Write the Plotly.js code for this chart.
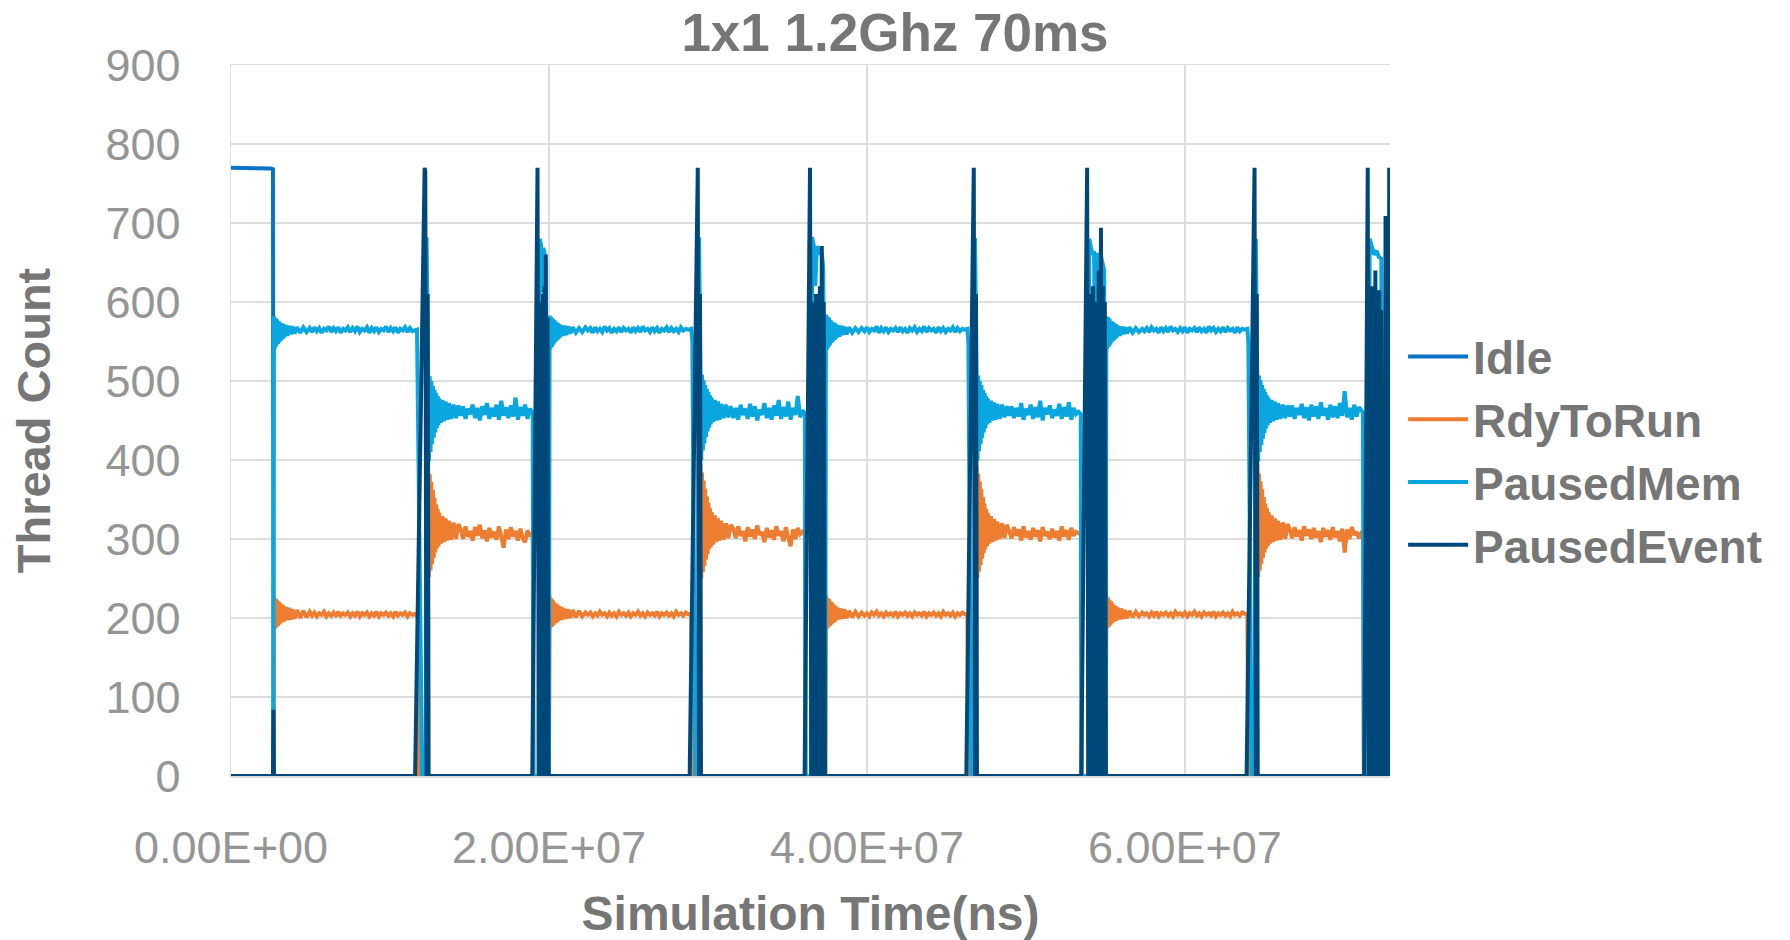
<!DOCTYPE html>
<html>
<head>
<meta charset="utf-8">
<script src="https://cdn.plot.ly/plotly-3.0.1.min.js"></script>
<style>
html, body { margin: 0; padding: 0; background: #ffffff; }
#chart { width: 1790px; height: 940px; }
</style>
</head>
<body>
<div id="chart"></div>
<script>
// ---------- labels ----------
const chartTitle = "1x1 1.2Ghz 70ms";
const xTitle = "Simulation Time(ns)";
const yTitle = "Thread Count";
const seriesNames = ["Idle", "RdyToRun", "PausedMem", "PausedEvent"];
const xTickVals = [0, 2e7, 4e7, 6e7];
const xTickText = ["0.00E+00", "2.00E+07", "4.00E+07", "6.00E+07"];

// ---------- Idle (time in ms) ----------
const tIdle = [0, 2.30, 2.50, 2.64, 2.68, 72.9];
const idle  = [770, 770, 769, 768, 0, 0];

// ---------- RdyToRun / PausedMem, segment by segment (time in ms) ----------
const tA = [0, 2.66];
const memA = [0, 0];
const rdyA = [0, 0];

// high phase 1
const tH1 = [2.70, 2.75, 2.80, 2.85, 2.90, 2.95, 3.00, 3.05, 3.10, 3.15, 3.20, 3.25, 3.30, 3.35, 3.45, 3.55, 3.65, 3.75, 3.85, 4.00, 4.15, 4.35, 4.55, 4.75, 4.95,
  5.10, 5.25, 5.40, 5.55, 5.70, 5.85, 6.00, 6.15, 6.30, 6.45, 6.60, 6.75, 6.90, 7.05, 7.20, 7.35, 7.50, 7.65, 7.80, 7.95, 8.10, 8.25, 8.40, 8.55, 8.70,
  8.85, 9.00, 9.15, 9.30, 9.45, 9.60, 9.75, 9.90, 10.05, 10.20, 10.35, 10.50, 10.65, 10.80, 10.95, 11.10, 11.25, 11.40];
const memH1 = [582, 541, 580, 544, 578, 547, 576, 549, 574, 551, 573, 553, 572, 555, 571, 557, 570, 559, 569, 560, 568, 561, 568, 562, 567,
  562, 568, 563, 567, 561, 566, 564, 569, 562, 567, 563, 568, 561, 566, 564, 568, 562, 567, 563, 569,
  562, 566, 564, 568, 561, 567, 563, 568, 562, 566, 564, 569, 562, 567, 563, 568, 561, 566, 564, 568, 562, 567, 563];
const rdyH1 = [227, 186, 225, 188, 223, 190, 221, 192, 219, 194, 217, 195, 216, 196, 214, 197, 213, 198, 211, 199, 210, 200, 209, 201, 208,
  203, 207, 202, 206, 204, 208, 202, 206, 203, 207, 202, 208, 203, 206, 204, 207, 202, 206, 203, 208,
  202, 206, 204, 207, 202, 206, 203, 208, 202, 206, 204, 207, 203, 206, 202, 208, 203, 206, 204, 207, 202, 206, 204];

const tS1 = [11.55, 11.70, 11.75, 11.80, 12.02, 12.25, 12.30, 12.35];
const memS1 = [564, 565, 478, 390, 0, 0, 682, 600];
const rdyS1 = [205, 203, 202, 0, 0, 0, 0, 0];

// low phase 1
const tL1 = [12.40, 12.45, 12.50, 12.55, 12.60, 12.65, 12.70, 12.75, 12.80, 12.85, 12.90, 12.95, 13.00, 13.05, 13.10, 13.20, 13.30, 13.40, 13.50, 13.60, 13.70, 13.85, 14.00, 14.15, 14.30,
  14.45, 14.60, 14.75, 14.90, 15.05, 15.20, 15.35, 15.50, 15.65, 15.80, 15.95, 16.10, 16.25, 16.40, 16.55,
  16.70, 16.85, 17.00, 17.15, 17.30, 17.45, 17.60, 17.75, 17.90, 18.05, 18.20, 18.35, 18.50, 18.65, 18.80];
const memL1 = [512, 398, 506, 410, 500, 420, 494, 428, 489, 435, 485, 440, 481, 444, 478, 447, 476, 449, 474, 451, 472, 452, 470, 453, 469,
  456, 468, 452, 465, 458, 470, 453, 466, 450, 468, 457, 472, 452, 466, 455,
  470, 451, 475, 456, 467, 453, 469, 455, 479, 451, 467, 456, 470, 452, 465];
const rdyL1 = [392, 252, 382, 260, 372, 268, 362, 276, 352, 283, 344, 288, 338, 291, 333, 294, 329, 296, 326, 298, 323, 299, 321, 300, 319,
  312, 300, 316, 303, 310, 298, 315, 304, 318, 301, 311, 297, 314, 302, 309,
  299, 316, 303, 289, 312, 300, 315, 303, 310, 298, 313, 301, 296, 311, 305];

const tS2 = [18.98, 19.02, 19.35, 19.42, 19.50, 19.56, 19.62, 19.70, 19.78, 19.90, 20.00];
const memS2 = [459, 0, 0, 680, 672, 612, 668, 665, 652, 0, 0];
const rdyS2 = [306, 0, 0, 0, 0, 0, 0, 0, 0, 0, 0];

// high phase 2
const tH2 = [20.04, 20.09, 20.14, 20.19, 20.24, 20.29, 20.34, 20.39, 20.44, 20.49, 20.54, 20.59, 20.64, 20.69, 20.79, 20.89, 20.99, 21.09, 21.19, 21.34, 21.49, 21.69, 21.89, 22.09, 22.29,
  22.45, 22.60, 22.75, 22.90, 23.05, 23.20, 23.35, 23.50, 23.65, 23.80, 23.95, 24.10, 24.25, 24.40, 24.55, 24.70, 24.85, 25.00, 25.15, 25.30, 25.45, 25.60,
  25.75, 25.90, 26.05, 26.20, 26.35, 26.50, 26.65, 26.80, 26.95, 27.10, 27.25, 27.40, 27.55, 27.70, 27.85, 28.00, 28.15, 28.30, 28.45, 28.60, 28.75];
const memH2 = [583, 540, 581, 543, 579, 546, 577, 549, 575, 551, 574, 553, 572, 555, 571, 557, 570, 558, 569, 560, 568, 561, 567, 562, 568,
  564, 567, 561, 568, 563, 566, 562, 569, 564, 567, 561, 566, 563, 568, 562, 567, 564, 566, 561, 568, 563, 567,
  562, 569, 564, 566, 562, 568, 563, 567, 561, 566, 564, 568, 562, 567, 563, 566, 562, 568, 564, 566, 565];
const rdyH2 = [228, 187, 225, 189, 223, 191, 220, 193, 218, 194, 217, 196, 215, 197, 214, 198, 212, 199, 211, 200, 210, 201, 209, 202, 207,
  204, 207, 202, 206, 203, 208, 204, 206, 202, 207, 203, 206, 202, 208, 204, 206, 203, 207, 202, 206, 204, 208,
  203, 206, 202, 207, 204, 206, 203, 208, 202, 206, 204, 207, 203, 206, 202, 208, 204, 206, 203, 207, 205];

const tS3 = [28.95, 29.02, 29.20, 29.38, 29.44, 29.49];
const memS3 = [566, 550, 0, 0, 682, 600];
const rdyS3 = [204, 0, 0, 0, 0, 0];

// low phase 2
const tL2 = [29.53, 29.58, 29.63, 29.68, 29.73, 29.78, 29.83, 29.88, 29.93, 29.98, 30.03, 30.08, 30.13, 30.18, 30.23, 30.33, 30.43, 30.53, 30.63, 30.73, 30.83, 30.98, 31.13, 31.28, 31.43,
  31.60, 31.75, 31.90, 32.05, 32.20, 32.35, 32.50, 32.65, 32.80, 32.95, 33.10, 33.25, 33.40, 33.55, 33.70,
  33.85, 34.00, 34.15, 34.30, 34.45, 34.60, 34.75, 34.90, 35.05, 35.20, 35.35, 35.50, 35.65, 35.80, 35.95];
const memL2 = [515, 400, 508, 412, 501, 421, 495, 429, 490, 436, 486, 441, 482, 445, 479, 448, 476, 450, 474, 451, 471, 453, 470, 454, 468,
  453, 466, 451, 470, 457, 465, 452, 471, 455, 468, 450, 464, 457, 472, 453,
  466, 451, 469, 456, 476, 452, 467, 455, 474, 451, 466, 457, 481, 454, 463];
const rdyL2 = [395, 250, 384, 258, 374, 266, 364, 274, 354, 281, 346, 287, 339, 290, 334, 293, 330, 296, 326, 298, 323, 299, 320, 301, 318,
  313, 301, 316, 304, 310, 297, 315, 303, 312, 300, 317, 305, 309, 296, 314,
  302, 311, 299, 316, 304, 310, 297, 315, 302, 291, 312, 300, 314, 306, 309];

const tS4 = [36.10, 36.14, 36.48, 36.55, 36.65, 36.75, 36.85, 36.95, 37.05, 37.15, 37.25, 37.38];
const memS4 = [458, 0, 0, 682, 672, 620, 670, 668, 660, 662, 645, 0];
const rdyS4 = [305, 0, 0, 0, 0, 0, 0, 0, 0, 0, 0, 0];

// high phase 3
const tH3 = [37.42, 37.47, 37.52, 37.57, 37.62, 37.67, 37.72, 37.77, 37.82, 37.87, 37.92, 37.97, 38.02, 38.07, 38.17, 38.27, 38.37, 38.47, 38.57, 38.72, 38.87, 39.07, 39.27, 39.47, 39.67,
  39.85, 40.00, 40.15, 40.30, 40.45, 40.60, 40.75, 40.90, 41.05, 41.20, 41.35, 41.50, 41.65, 41.80, 41.95, 42.10, 42.25, 42.40, 42.55, 42.70, 42.85, 43.00,
  43.15, 43.30, 43.45, 43.60, 43.75, 43.90, 44.05, 44.20, 44.35, 44.50, 44.65, 44.80, 44.95, 45.10, 45.25, 45.40, 45.55, 45.70, 45.85, 46.00, 46.15];
const memH3 = [584, 539, 582, 542, 580, 545, 577, 548, 575, 550, 574, 552, 573, 554, 571, 556, 570, 558, 569, 559, 568, 561, 567, 562, 567,
  563, 568, 562, 566, 564, 569, 561, 567, 563, 568, 562, 566, 564, 567, 562, 568, 563, 566, 561, 567, 564, 568,
  562, 566, 563, 569, 562, 567, 564, 566, 561, 568, 563, 567, 562, 566, 564, 568, 562, 567, 563, 566, 565];
const rdyH3 = [229, 186, 226, 188, 224, 190, 221, 192, 219, 194, 217, 195, 215, 197, 213, 198, 212, 199, 211, 200, 209, 201, 208, 202, 207,
  203, 206, 202, 207, 204, 208, 203, 206, 202, 207, 204, 206, 203, 208, 202, 206, 204, 207, 203, 206, 202, 207,
  204, 206, 203, 208, 202, 206, 204, 207, 203, 206, 202, 208, 204, 206, 203, 207, 202, 206, 204, 207, 205];

const tS5 = [46.32, 46.38, 46.56, 46.74, 46.80, 46.85];
const memS5 = [566, 548, 0, 0, 681, 602];
const rdyS5 = [203, 0, 0, 0, 0, 0];

// low phase 3
const tL3 = [46.90, 46.95, 47.00, 47.05, 47.10, 47.15, 47.20, 47.25, 47.30, 47.35, 47.40, 47.45, 47.50, 47.55, 47.60, 47.70, 47.80, 47.90, 48.00, 48.10, 48.20, 48.35, 48.50, 48.65, 48.80,
  48.95, 49.10, 49.25, 49.40, 49.55, 49.70, 49.85, 50.00, 50.15, 50.30, 50.45, 50.60, 50.75, 50.90, 51.05,
  51.20, 51.35, 51.50, 51.65, 51.80, 51.95, 52.10, 52.25, 52.40, 52.55, 52.70, 52.85, 53.00, 53.15, 53.30];
const memL3 = [513, 399, 507, 411, 500, 420, 495, 428, 489, 435, 485, 440, 481, 445, 478, 447, 475, 450, 473, 451, 471, 452, 470, 454, 468,
  456, 468, 453, 466, 455, 472, 451, 465, 457, 470, 452, 467, 454, 475, 450,
  466, 458, 469, 453, 464, 456, 471, 452, 467, 455, 473, 451, 466, 458, 461];
const rdyL3 = [393, 251, 383, 259, 373, 267, 363, 275, 353, 282, 345, 287, 338, 291, 333, 294, 329, 296, 325, 298, 322, 300, 320, 301, 318,
  311, 301, 315, 304, 312, 298, 316, 302, 310, 299, 314, 303, 311, 297, 315,
  304, 309, 300, 313, 302, 310, 298, 316, 303, 311, 299, 314, 304, 309, 307];

const tS6 = [53.45, 53.50, 53.92, 53.98, 54.08, 54.18, 54.28, 54.36, 54.42, 54.48, 54.58, 54.68, 54.80, 54.92, 55.02];
const memS6 = [458, 0, 0, 680, 668, 660, 665, 437, 437, 662, 655, 662, 650, 640, 0];
const rdyS6 = [306, 0, 0, 0, 0, 0, 0, 0, 0, 0, 0, 0, 0, 0, 0];

// high phase 4
const tH4 = [55.06, 55.11, 55.16, 55.21, 55.26, 55.31, 55.36, 55.41, 55.46, 55.51, 55.56, 55.61, 55.66, 55.71, 55.81, 55.91, 56.01, 56.11, 56.21, 56.36, 56.51, 56.71, 56.91, 57.11, 57.31,
  57.45, 57.60, 57.75, 57.90, 58.05, 58.20, 58.35, 58.50, 58.65, 58.80, 58.95, 59.10, 59.25, 59.40, 59.55, 59.70, 59.85, 60.00, 60.15, 60.30, 60.45, 60.60,
  60.75, 60.90, 61.05, 61.20, 61.35, 61.50, 61.65, 61.80, 61.95, 62.10, 62.25, 62.40, 62.55, 62.70, 62.85, 63.00, 63.15, 63.30, 63.45, 63.60, 63.75];
const memH4 = [582, 540, 581, 543, 579, 546, 576, 549, 575, 551, 573, 553, 572, 555, 570, 557, 569, 559, 568, 560, 568, 561, 567, 562, 566,
  563, 567, 562, 568, 564, 566, 561, 568, 563, 567, 562, 569, 564, 566, 562, 567, 563, 568, 561, 566, 564, 567,
  562, 568, 563, 566, 561, 569, 564, 567, 562, 566, 563, 568, 562, 567, 564, 566, 561, 568, 563, 566, 565];
const rdyH4 = [228, 187, 226, 189, 223, 191, 221, 193, 218, 195, 216, 196, 215, 197, 213, 198, 212, 199, 210, 200, 209, 201, 208, 202, 207,
  204, 206, 202, 207, 203, 208, 202, 206, 204, 207, 203, 206, 202, 208, 204, 206, 203, 207, 202, 206, 204, 208,
  203, 206, 202, 207, 204, 206, 203, 208, 202, 206, 204, 207, 203, 206, 202, 208, 204, 206, 203, 207, 205];

const tS7 = [63.93, 63.99, 64.20, 64.40, 64.46, 64.51];
const memS7 = [566, 549, 0, 0, 680, 601];
const rdyS7 = [204, 0, 0, 0, 0, 0];

// low phase 4
const tL4 = [64.56, 64.61, 64.66, 64.71, 64.76, 64.81, 64.86, 64.91, 64.96, 65.01, 65.06, 65.11, 65.16, 65.21, 65.26, 65.36, 65.46, 65.56, 65.66, 65.76, 65.86, 66.01, 66.16, 66.31, 66.46,
  66.60, 66.75, 66.90, 67.05, 67.20, 67.35, 67.50, 67.65, 67.80, 67.95, 68.10, 68.25, 68.40, 68.55, 68.70, 68.85,
  69.00, 69.15, 69.30, 69.45, 69.60, 69.75, 69.90, 70.05, 70.20, 70.35, 70.50, 70.65, 70.80, 70.95, 71.10];
const memL4 = [514, 398, 507, 410, 501, 419, 495, 427, 490, 434, 486, 440, 482, 444, 479, 447, 476, 449, 474, 451, 472, 452, 470, 453, 469,
  455, 469, 452, 466, 457, 471, 453, 467, 450, 470, 455, 468, 452, 473, 456, 466,
  451, 470, 454, 468, 453, 472, 456, 487, 454, 466, 451, 470, 455, 467, 462];
const rdyL4 = [394, 252, 383, 260, 373, 268, 363, 276, 353, 283, 345, 288, 339, 291, 334, 294, 330, 296, 326, 298, 323, 299, 321, 300, 319,
  312, 301, 315, 303, 311, 298, 316, 304, 312, 300, 314, 302, 310, 296, 314, 303,
  311, 299, 315, 302, 310, 297, 313, 283, 312, 300, 315, 305, 309, 301, 308];

const tS8 = [71.20, 71.26, 71.55, 71.62, 71.75, 71.90, 72.05, 72.20, 72.35, 72.42, 72.50, 72.70, 72.85, 72.90];
const memS8 = [460, 0, 0, 680, 668, 660, 665, 657, 655, 434, 0, 0, 650, 229];
const rdyS8 = [307, 0, 0, 0, 0, 0, 0, 0, 0, 0, 0, 0, 0, 0];

// ---------- PausedEvent bursts (time in ms) ----------
const tE0 = [0, 2.64, 2.67, 2.70];
const ev0 = [0, 0, 84, 0];
const tE1 = [11.58, 12.18, 12.22, 12.30, 12.37, 12.43];
const ev1 = [0, 770, 765, 0, 610, 0];
const tE2 = [18.95, 19.28, 19.36, 19.42, 19.47, 19.52, 19.57, 19.62, 19.67, 19.72, 19.76, 19.80, 19.86, 19.91, 19.97];
const ev2 = [0, 770, 0, 560, 0, 600, 0, 610, 0, 620, 0, 660, 0, 580, 0];
const tE3 = [28.85, 29.36, 29.44, 29.50, 29.56];
const ev3 = [0, 770, 0, 610, 0];
const tE4 = [36.08, 36.42, 36.50, 36.56, 36.62, 36.68, 36.74, 36.80, 36.86, 36.92, 36.98, 37.04, 37.10, 37.16, 37.22, 37.28, 37.36];
const ev4 = [0, 770, 0, 560, 0, 600, 0, 610, 0, 590, 0, 620, 0, 671, 0, 600, 0];
const tE5 = [46.25, 46.72, 46.80, 46.86, 46.92];
const ev5 = [0, 770, 0, 610, 0];
const tE6 = [53.48, 53.85, 53.92, 53.98, 54.04, 54.10, 54.16, 54.22, 54.28, 54.34, 54.40, 54.44, 54.48, 54.52, 54.58, 54.64, 54.72, 54.78, 54.84, 54.90, 54.96, 55.03];
const ev6 = [0, 770, 0, 600, 0, 610, 0, 620, 0, 600, 218, 0, 218, 0, 640, 0, 694, 0, 620, 0, 600, 0];
const tE7 = [63.88, 64.38, 64.46, 64.52, 64.58];
const ev7 = [0, 770, 0, 610, 0];
const tE8 = [71.28, 71.50, 71.56, 71.62, 71.68, 71.74, 71.80, 71.86, 71.92, 71.98, 72.04, 72.10, 72.16, 72.22, 72.28, 72.34, 72.40, 72.45, 72.50, 72.56, 72.62, 72.68, 72.74, 72.80, 72.85, 72.90];
const ev8 = [0, 770, 0, 600, 0, 620, 0, 610, 0, 640, 0, 600, 0, 615, 0, 590, 0, 120, 0, 0, 709, 0, 650, 0, 770, 390];

// ---------- assemble ----------
const MS_TO_NS = 1e6;
const toNs = arr => arr.map(v => v * MS_TO_NS);
const tState = toNs([].concat(tA, tH1, tS1, tL1, tS2, tH2, tS3, tL2, tS4, tH3, tS5, tL3, tS6, tH4, tS7, tL4, tS8));
const pausedMem = [].concat(memA, memH1, memS1, memL1, memS2, memH2, memS3, memL2, memS4, memH3, memS5, memL3, memS6, memH4, memS7, memL4, memS8);
const rdyToRun = [].concat(rdyA, rdyH1, rdyS1, rdyL1, rdyS2, rdyH2, rdyS3, rdyL2, rdyS4, rdyH3, rdyS5, rdyL3, rdyS6, rdyH4, rdyS7, rdyL4, rdyS8);
const tEvent = toNs([].concat(tE0, tE1, tE2, tE3, tE4, tE5, tE6, tE7, tE8));
const pausedEvent = [].concat(ev0, ev1, ev2, ev3, ev4, ev5, ev6, ev7, ev8);

const colors = ["#0B72C5", "#ED7D31", "#0AA6E0", "#00487A"];
const lw = 4;

const traces = [
  { x: toNs(tIdle), y: idle, name: seriesNames[0], type: "scatter", mode: "lines", line: { color: colors[0], width: lw } },
  { x: tState, y: rdyToRun, name: seriesNames[1], type: "scatter", mode: "lines", line: { color: colors[1], width: lw } },
  { x: tState, y: pausedMem, name: seriesNames[2], type: "scatter", mode: "lines", line: { color: colors[2], width: lw } },
  { x: tEvent, y: pausedEvent, name: seriesNames[3], type: "scatter", mode: "lines", line: { color: colors[3], width: lw } }
];

const titleGrey = "#767676";
const tickGrey = "#959595";
const gridGrey = "#DDDDDD";
const fontFam = "Liberation Sans, Arial, sans-serif";

const layout = {
  width: 1790,
  height: 940,
  paper_bgcolor: "#ffffff",
  plot_bgcolor: "#ffffff",
  margin: { l: 231, r: 400, t: 65, b: 164 },
  title: {
    text: chartTitle,
    font: { family: fontFam, size: 53, color: titleGrey, weight: 700 },
    x: 0.5, xref: "container", xanchor: "center",
    y: 0.966, yref: "container", yanchor: "middle"
  },
  xaxis: {
    range: [0, 72.9e6],
    tickmode: "array",
    tickvals: xTickVals,
    ticktext: xTickText,
    showgrid: true,
    gridcolor: gridGrey,
    gridwidth: 1.5,
    zeroline: false,
    showline: true,
    mirror: true,
    linecolor: gridGrey,
    linewidth: 1.5,
    ticks: "",
    ticklabelstandoff: 31,
    tickfont: { family: fontFam, size: 45, color: tickGrey },
    title: {
      text: xTitle,
      font: { family: fontFam, size: 48, color: titleGrey, weight: 700 },
      standoff: 65
    }
  },
  yaxis: {
    range: [0, 900],
    dtick: 100,
    tick0: 0,
    showgrid: true,
    gridcolor: gridGrey,
    gridwidth: 1.5,
    zeroline: false,
    showline: true,
    linecolor: gridGrey,
    linewidth: 1.5,
    ticks: "",
    ticklabelstandoff: 40,
    tickfont: { family: fontFam, size: 45, color: tickGrey },
    title: {
      text: yTitle,
      font: { family: fontFam, size: 47, color: titleGrey, weight: 700 },
      standoff: 40
    }
  },
  showlegend: true,
  legend: {
    x: 1.0113, xanchor: "left",
    y: 0.457, yanchor: "middle",
    font: { family: fontFam, size: 46, color: titleGrey, weight: 700 },
    bgcolor: "rgba(0,0,0,0)",
    itemwidth: 60,
    traceorder: "normal"
  },
  hovermode: false
};

Plotly.newPlot("chart", traces, layout, { staticPlot: true, displayModeBar: false });
</script>
</body>
</html>
